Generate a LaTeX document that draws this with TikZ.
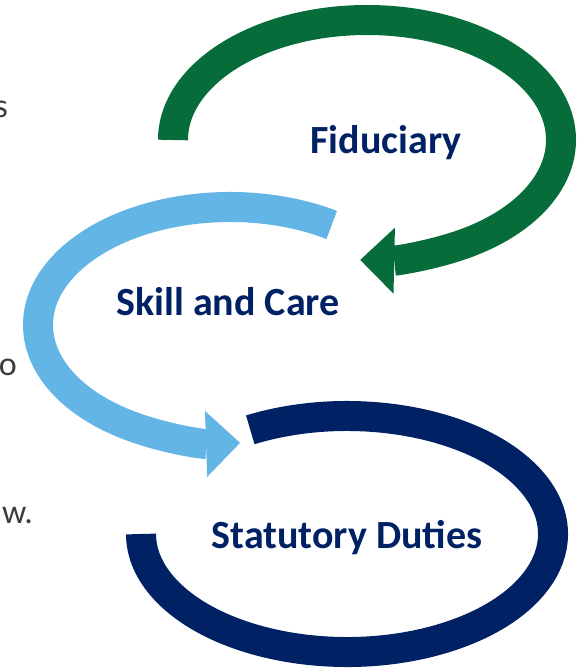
\documentclass[tikz,border=0pt]{standalone}
\usepackage{fontspec}
\setmainfont{Carlito}
\usetikzlibrary{arrows.meta, calc}
\definecolor{loopgreen}{HTML}{066C39}
\definecolor{loopblue}{HTML}{63B5E5}
\definecolor{loopnavy}{HTML}{002163}
\definecolor{bodygray}{HTML}{3C3C3C}

\tikzset{
    looparc/.style={line width=30pt},
    looptip/.style={-{Triangle[width=66pt, length=34pt, line width=0pt]}},
    looptext/.style={font=\fontsize{40}{48}\selectfont\bfseries, text=loopnavy, anchor=base, inner sep=0pt},
    cuttext/.style={font=\fontsize{34}{40}\selectfont, text=bodygray, anchor=base east, inner sep=0pt}
}

\begin{document}
\begin{tikzpicture}[x=1pt, y=1pt]
            \clip (0,0) rectangle (587,-668);
            % centres of the three loops
            \coordinate (fidc) at (367,-140);
            \coordinate (skillc) at (230,-325);
            \coordinate (statc) at (347,-534);

            % left-hand text running off the edge
            \node[cuttext] (line1) at (8,-118) {s};
            \node[cuttext] (line2) at (17,-375) {o};
            \node[cuttext] (line3) at (33,-523) {w.};

            \draw[looparc, loopgreen, looptip] ([shift={(180:194 and 120)}]fidc) arc[start angle=180, end angle=-92, x radius=194, y radius=120];
            \draw[looparc, loopblue, looptip] ([shift={(58:192 and 118)}]skillc) arc[start angle=58, end angle=273, x radius=192, y radius=118];
            \draw[looparc, loopnavy] ([shift={(118:206 and 118)}]statc) arc[start angle=118, end angle=-180, x radius=206, y radius=118];

            \node[looptext] (fid) at (386,-154) {Fiduciary};
            \node[looptext] (skill) at (228,-315) {Skill and Care};
            \node[looptext] (stat) at (347,-548) {Statutory Duties};
        \end{tikzpicture}
\end{document}
